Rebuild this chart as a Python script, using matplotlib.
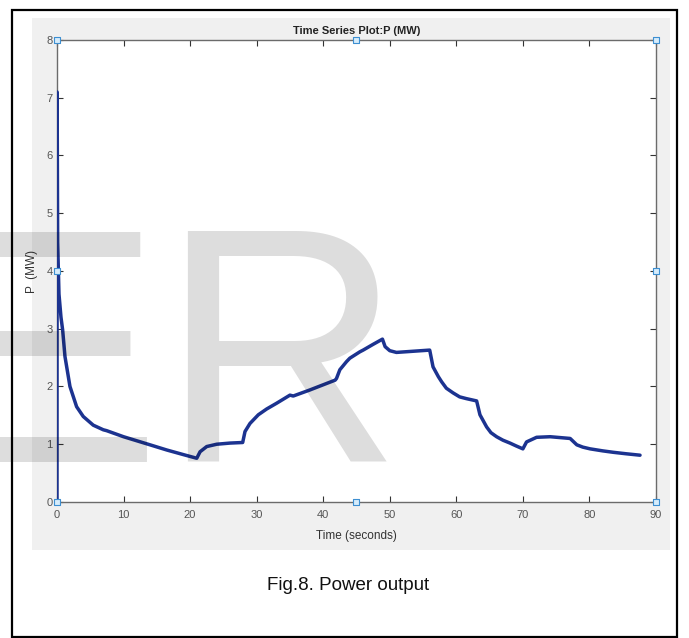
"""Time series plot of P (MW) with MATLAB-like figure styling."""

import matplotlib

matplotlib.use("Agg")
import matplotlib.pyplot as plt  # noqa: E402
from matplotlib.patches import Rectangle  # noqa: E402

# data
time_s = [0.0, 0.02, 0.1, 0.3, 0.6, 0.85, 1.2, 1.95, 2.95, 3.95, 5.45, 6.96, 7.46,
          10.0, 13.97, 16.5, 19.0, 21.0, 21.5, 22.5, 24.0, 26.0, 27.9, 28.25, 29.0,
          30.25, 31.5, 33.0, 35.0, 35.5, 38.0, 41.8, 42.0, 42.5, 43.5, 44.0, 45.5,
          46.0, 47.5, 48.9, 49.3, 50.0, 51.0, 56.0, 56.5, 57.3, 57.8, 58.5, 59.5,
          60.5, 61.5, 63.05, 63.55, 64.55, 65.2, 66.05, 67.0, 68.06, 69.0, 70.0,
          70.55, 72.06, 74.1, 77.1, 78.1, 79.0, 80.1, 82.0, 83.6, 85.5, 87.6]
power_mw = [0.0, 7.1, 4.5, 3.6, 3.2, 2.98, 2.52, 2.0, 1.65, 1.48, 1.33, 1.25, 1.235,
            1.13, 0.99, 0.9, 0.82, 0.757, 0.87, 0.96, 1.0, 1.02, 1.03, 1.22, 1.36,
            1.51, 1.61, 1.71, 1.85, 1.835, 1.94, 2.11, 2.14, 2.29, 2.43, 2.49, 2.6,
            2.63, 2.73, 2.82, 2.69, 2.62, 2.59, 2.63, 2.34, 2.17, 2.08, 1.97, 1.89,
            1.82, 1.79, 1.75, 1.51, 1.30, 1.2, 1.13, 1.07, 1.02, 0.97, 0.92,
            1.04, 1.12, 1.13, 1.10, 0.99, 0.95, 0.92, 0.885, 0.86, 0.835, 0.81]

x_ticks = [0, 10, 20, 30, 40, 50, 60, 70, 80, 90]
y_ticks = [0, 1, 2, 3, 4, 5, 6, 7, 8]

# selection handles drawn by the plot tool
handle_x = [0, 0, 0, 45, 45, 90, 90, 90]
handle_y = [0, 4, 8, 0, 8, 0, 4, 8]

SANS = ["Liberation Sans", "DejaVu Sans"]
LINE_COLOR = "#1c3390"
AXIS_GRAY = "#6b6b6b"

fig = plt.figure(figsize=(6.89, 6.38), dpi=100)
fig.patch.set_facecolor("white")

# gray MATLAB figure panel and outer frame
fig.patches.append(Rectangle((0.0464, 0.138), 0.926, 0.834, transform=fig.transFigure,
                             facecolor="#f0f0f0", edgecolor="none", zorder=-5))
fig.patches.append(Rectangle((0.0174, 0.002), 0.965, 0.982, transform=fig.transFigure,
                             facecolor="none", edgecolor="black", linewidth=1.6, zorder=5))

ax = fig.add_axes([0.0827, 0.2132, 0.8694, 0.7241])
ax.set_zorder(1)
ax.set_facecolor("white")
ax.plot(time_s, power_mw, color=LINE_COLOR, linewidth=2.5, solid_joinstyle="round",
        solid_capstyle="round", zorder=3)
ax.scatter(handle_x, handle_y, marker="s", s=16, facecolor="#d6ecfb",
           edgecolor="#3d8fd1", linewidth=0.8, clip_on=False, zorder=4)

ax.set_xlim(0, 90)
ax.set_ylim(0, 8)
ax.set_xticks(x_ticks)
ax.set_yticks(y_ticks)
ax.tick_params(direction="in", length=4, width=0.8, color="#333333",
               top=True, right=True, labelcolor="#555555", labelsize=8, pad=3)
ax.tick_params(axis="x", pad=6)
for lab in ax.get_xticklabels() + ax.get_yticklabels():
    lab.set_family(SANS)
for sp in ax.spines.values():
    sp.set_color(AXIS_GRAY)
    sp.set_linewidth(1.0)

ax.set_xlabel("Time (seconds)", family=SANS, fontsize=8.5, color="#333333", labelpad=7)
ax.set_ylabel("P  (MW)", family=SANS, fontsize=8.5, color="#333333", labelpad=6)
ax.set_title("Time Series Plot:P (MW)", family=SANS, fontsize=8,
             fontweight="bold", color="#222222", pad=4)

fig.text(0.505, 0.082, "Fig.8. Power output", family=SANS,
         fontsize=13.5, ha="center", va="center", color="#111111")

# faint watermark over the figure
fig.text(-0.09, 0.276, "ER", family=SANS, fontsize=241,
         color="black", alpha=0.135, ha="left", va="baseline", zorder=10)

fig.savefig("out.png", dpi=100)
plt.close(fig)
